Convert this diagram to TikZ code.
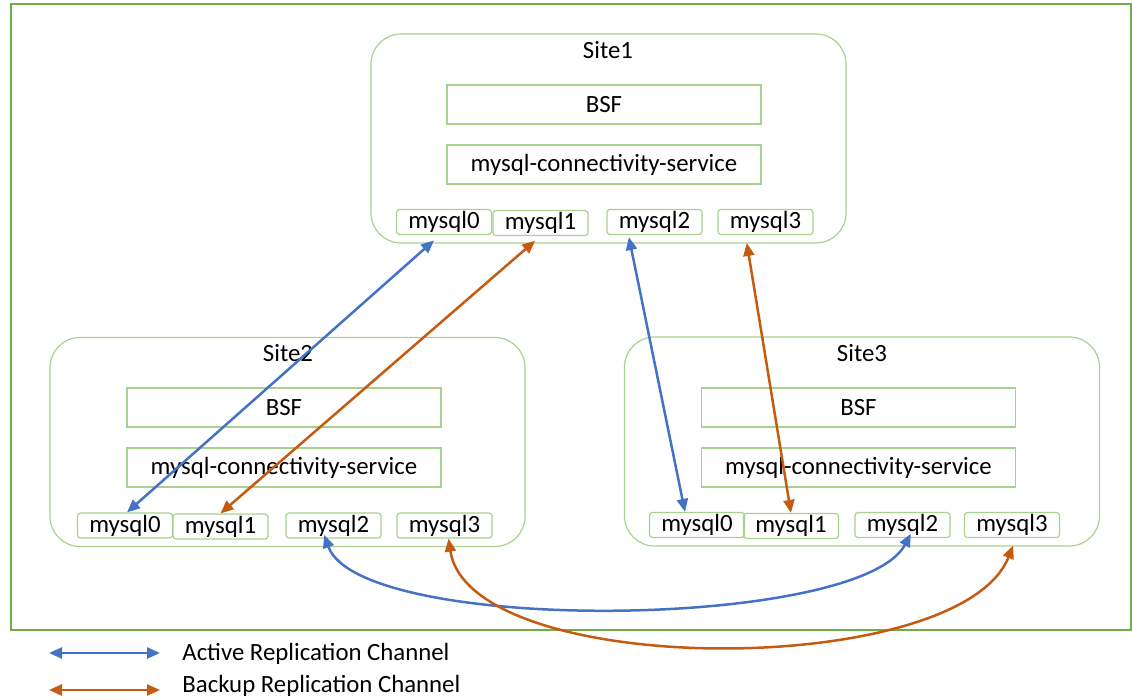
\documentclass[tikz,border=0pt]{standalone}
\usepackage{fontspec}
\setmainfont{Carlito}
\usetikzlibrary{arrows.meta,positioning}
\definecolor{framegreen}{HTML}{70AD47}
\definecolor{boxgreen}{HTML}{A9D18E}
\definecolor{actblue}{HTML}{4472C4}
\definecolor{bakorange}{HTML}{C55A11}

\begin{document}
\begin{tikzpicture}[x=0.5pt,y=-0.5pt,
	every node/.style={font=\fontsize{12.4}{14}\selectfont},
	site/.style={draw=boxgreen,line width=0.6pt,rounded corners=15pt,minimum width=237.5pt,minimum height=104.5pt},
	comp/.style={draw=boxgreen,line width=0.6pt,minimum width=157pt,minimum height=19.5pt,inner sep=0pt},
	db/.style={draw=boxgreen,line width=0.6pt,rounded corners=1.5pt,minimum width=47.5pt,minimum height=12.5pt,inner sep=0pt},
	active/.style={actblue,line width=1.25pt,{Triangle[length=6.5pt,width=5.5pt]}-{Triangle[length=6.5pt,width=5.5pt]}},
	backup/.style={bakorange,line width=1.25pt,{Triangle[length=6.5pt,width=5.5pt]}-{Triangle[length=6.5pt,width=5.5pt]}}]

	\useasboundingbox (0,0) rectangle (1132,700);
	\draw[framegreen,line width=0.8pt] (11,4) rectangle (1131,630);

	% Site1
	\node[site] (s1) at (608.5,138.5) {};
	\node (s1t) at (608,50) {Site1};
	\node[comp] (s1bsf) at (604,104.5) {BSF};
	\node[comp] (s1mcs) at (604,164.5) {mysql-connectivity-service};
	\node[db] (s1m0) at (444,222) {mysql0};
	\node[db] (s1m1) at (540.5,223) {mysql1};
	\node[db] (s1m2) at (654.5,222) {mysql2};
	\node[db] (s1m3) at (765.5,222) {mysql3};

	% Site2
	\node[site] (s2) at (287.5,442) {};
	\node (s2t) at (288,353) {Site2};
	\node[comp] (s2bsf) at (284,407.5) {BSF};
	\node[comp] (s2mcs) at (284,467.5) {mysql-connectivity-service};
	\node[db] (s2m0) at (125,525.5) {mysql0};
	\node[db] (s2m1) at (220.5,526.5) {mysql1};
	\node[db] (s2m2) at (333.5,525.5) {mysql2};
	\node[db] (s2m3) at (444.5,525.5) {mysql3};

	% Site3
	\node[site] (s3) at (862,441.5) {};
	\node (s3t) at (862,353) {Site3};
	\node[comp] (s3bsf) at (858.5,407.5) {BSF};
	\node[comp] (s3mcs) at (858.5,467.5) {mysql-connectivity-service};
	\node[db] (s3m0) at (697,525) {mysql0};
	\node[db] (s3m1) at (791,526) {mysql1};
	\node[db] (s3m2) at (902.5,525) {mysql2};
	\node[db] (s3m3) at (1012,525) {mysql3};

	% replication channels
	\draw[active,shorten <=4pt] ([xshift=-2pt]s1m0.south) -- ([xshift=1pt]s2m0.north);
	\draw[backup,shorten <=3.5pt] (s1m1.south) -- (s2m1.north);
	\draw[active,shorten <=1pt] ([xshift=-13pt]s1m2.south) -- ([xshift=-6pt]s3m0.north);
	\draw[backup,shorten <=4pt] ([xshift=-10pt]s1m3.south) -- (s3m1.north);

	\draw[active,shorten <=-2pt,shorten >=-2.5pt] ([xshift=-4pt]s2m2.south) .. controls (360,635) and (860,630) .. ([xshift=3pt]s3m2.south);
	\draw[backup,shorten >=4pt] ([xshift=2pt]s2m3.south) .. controls (470,680) and (960,680) .. ([xshift=2pt]s3m3.south);

	% legend
	\coordinate (la1) at (49,653);
	\coordinate (la2) at (160,653);
	\coordinate (lb1) at (49,690);
	\coordinate (lb2) at (160,690);
	\draw[active] (la1) -- (la2);
	\draw[backup] (lb1) -- (lb2);
	\node[anchor=west,inner sep=0pt] (lat) at (182,654) {Active Replication Channel};
	\node[anchor=west,inner sep=0pt] (lbt) at (182,686) {Backup Replication Channel};

\end{tikzpicture}
\end{document}
